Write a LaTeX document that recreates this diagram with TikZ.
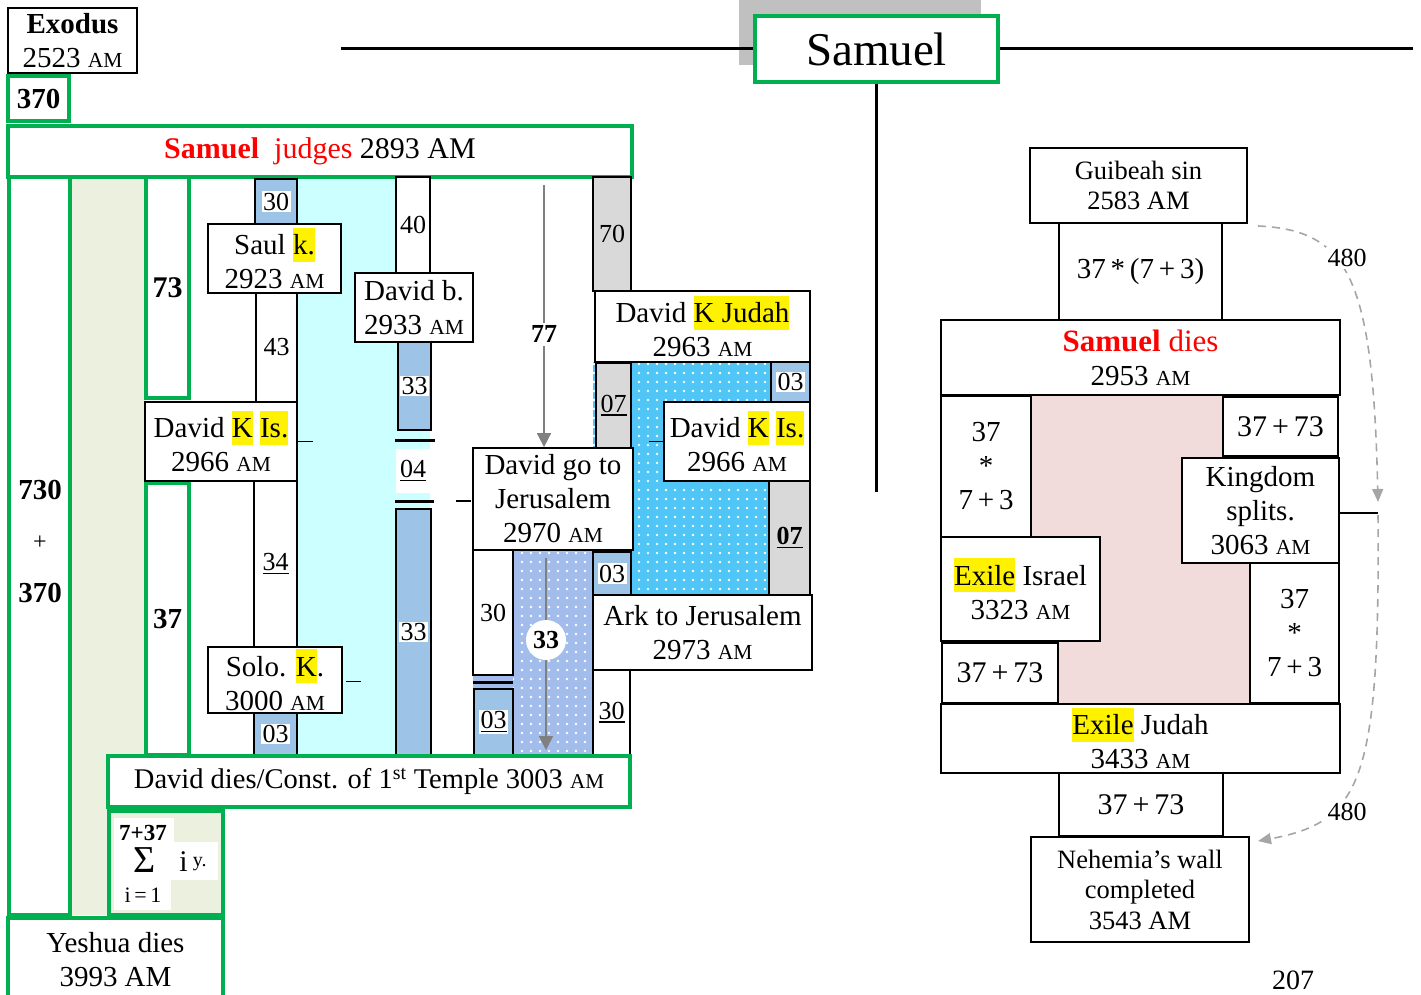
\documentclass[tikz,border=0pt]{standalone}
\usepackage{fontspec}
\setmainfont{Liberation Serif}
\usetikzlibrary{arrows.meta,patterns.meta}
\definecolor{grn}{HTML}{00B050}
\definecolor{lgrn}{HTML}{EBF1DE}
\definecolor{cyn}{HTML}{CCFFFF}
\definecolor{blu}{HTML}{9DC3E6}
\definecolor{gry}{HTML}{D9D9D9}
\definecolor{pnk}{HTML}{F2DCDB}
\definecolor{topgray}{HTML}{C0C0C0}
\definecolor{dotblue}{HTML}{A2BCEB}
\definecolor{dotcyan}{HTML}{4FC6F5}
\definecolor{arrg}{HTML}{808080}
\definecolor{darrg}{HTML}{A6A6A6}
\newcommand\fz[2]{\fontsize{#1}{#2}\selectfont}
\newcommand\am{\scalebox{0.74}{AM}}
\newcommand\hl[1]{{\setlength{\fboxsep}{0pt}\colorbox{yellow}{\rule[-0.24em]{0pt}{1.17em}#1}}}
\newcommand\wb[1]{{\setlength{\fboxsep}{1.5pt}\colorbox{white}{#1}}}
\newcommand\ul[1]{\setbox0\hbox{#1}\leavevmode\rlap{\rule[-3.5pt]{\wd0}{1.8pt}}\box0}
\newcommand\bx[7]{\node[#1, minimum width=#5pt-#3pt, minimum height=#6pt-#4pt] (#2) at ({(#3+#5)/2},{(#4+#6)/2}) {#7};}
\tikzset{
 boxbase/.style={inner sep=0pt, align=center},
 wbox/.style={boxbase, draw=black, line width=1.8pt, fill=white},
 gbox/.style={boxbase, draw=grn, line width=3.2pt, fill=white},
 gboxl/.style={boxbase, draw=grn, line width=3.2pt, fill=lgrn},
 bcol/.style={boxbase, draw=black, line width=1.8pt, fill=blu, font=\fz{26}{30}},
 gycol/.style={boxbase, draw=black, line width=1.8pt, fill=gry, font=\fz{26}{30}},
 wcol/.style={wbox, font=\fz{26}{30}},
 thk/.style={line width=3pt, black},
 tick/.style={line width=1.8pt, black},
 garrow/.style={draw=arrg, line width=1.8pt, -{Triangle[length=14pt,width=14pt]}},
 darrow/.style={draw=darrg, line width=1.6pt, dash pattern=on 8pt off 6pt, -{Triangle[length=13pt,width=11pt]}},
 lbl/.style={fill=white, inner sep=2pt, font=\fz{26}{28}},
}
\begin{document}
\begin{tikzpicture}[x=1pt,y=-1pt, every node/.style={font=\fz{29}{34}}]
\useasboundingbox (0,0) rectangle (1421,994);

% ---------- background fills ----------
\fill[lgrn] (70,177) rectangle (146,915);
\fill[cyn] (297,177) rectangle (430,755);
\fill[dotcyan] (593,362) rectangle (770,595);
\fill[pattern={Dots[distance=9pt,radius=1.3pt]}, pattern color=white] (593,362) rectangle (770,595);
\fill[dotblue] (513,550) rectangle (593,755);
\fill[dotblue] (473,675) rectangle (513,689);
\fill[pattern={Dots[distance=9pt,radius=1.3pt]}, pattern color=white] (513,550) rectangle (593,755);
\fill[pnk] (1031,395) rectangle (1250,703);
\fill[topgray] (739,0) rectangle (981,65);

% ---------- top title ----------
\bx{gbox, font=\fz{47}{50}}{samT}{755}{16}{998}{82}{Samuel}
\coordinate (hlL) at (341,48);
\coordinate (hlR) at (1413,48);
\coordinate (vlB) at (877,492);
\draw[line width=3pt] (hlL) -- (hlL -| samT.west);
\draw[line width=3pt] (samT.east |- hlR) -- (hlR);
\draw[line width=3pt] (samT.south) -- (samT.south |- vlB);

% ---------- top left ----------
\bx{wbox}{exodus}{8}{8}{137}{73}{\textbf{Exodus}\\2523 \am}
\bx{gbox}{n370}{8}{76}{69}{121}{\textbf{370}}
\bx{gbox, font=\fz{30}{34}}{judges}{8}{126}{632}{177}{{\color{red}\textbf{Samuel}\hspace{0.5em}judges} 2893 AM}

% ---------- long green columns ----------
\bx{gbox}{c730}{9}{177}{70}{915}{}
\node[font=\bfseries\fz{29}{30}] (t730) at (40,490) {730};
\node[font=\fz{24}{26}] (tplus) at (40,543) {+};
\node[font=\bfseries\fz{29}{30}] (t370) at (40,593) {370};
\bx{gbox, font=\bfseries\fz{30}{32}}{c73}{146}{177}{189}{398}{73}
\bx{gbox, font=\bfseries\fz{29}{32}}{c37}{146}{483}{189}{755}{37}

% ---------- Saul / David column ----------
\bx{bcol}{b30a}{255}{179}{297}{224}{\wb{30}}
\bx{wbox}{saul}{208}{224}{341}{293}{Saul \hl{k.}\\2923 \am}
\bx{wcol}{c43}{256}{293}{297}{402}{43}
\bx{wbox}{dkisL}{145}{402}{297}{481}{David \hl{K} \hl{Is.}\\2966 \am}
\bx{wcol}{c34}{254}{481}{297}{647}{\ul{34}}
\bx{wbox}{solo}{208}{647}{342}{713}{Solo. \hl{K}.\\3000 \am}
\bx{bcol}{b03a}{254}{713}{297}{755}{\wb{03}}
\draw[tick] (dkisL.east) -- ++(15,0);
\draw[tick] ([xshift=3pt,yshift=-1.5pt]solo.east) -- ++(15,0);

% ---------- David born column ----------
\bx{wcol}{c40}{396}{177}{430}{273}{40}
\bx{wbox}{davb}{355}{273}{473}{342}{David b.\\2933 \am}
\bx{bcol}{b33a}{398}{342}{431}{430}{\wb{33}}
\draw[thk] (395,440) -- (435,440);
\draw[thk] (395,501) -- (434,501);
\node[fill=white, minimum width=34pt, minimum height=44pt, inner sep=0pt, font=\fz{26}{30}] (l04) at (413,471) {\ul{04}};
\bx{bcol}{b33b}{396}{509}{431}{755}{\wb{33}}

% ---------- Judah / Jerusalem block ----------
\bx{gycol}{c70}{593}{177}{631}{291}{70}
\bx{wbox}{djud}{595}{291}{810}{362}{David \hl{K Judah}\\2963 \am}
\bx{gycol}{c07a}{596}{363}{631}{448}{\ul{07}}
\bx{bcol}{b03b}{771}{362}{810}{402}{\wb{03}}
\bx{wbox}{dkisR}{664}{402}{810}{481}{David \hl{K} \hl{Is.}\\2966 \am}
\bx{gycol, font=\bfseries\fz{26}{30}}{c07b}{769}{481}{810}{595}{\ul{07}}
\draw[tick] (dkisR.west) -- ++(-14,0);

\bx{wbox}{gojer}{473}{448}{633}{550}{David go to\\Jerusalem\\2970 \am}
\coordinate (a77s) at (544,185);
\draw[garrow] (a77s) -- (a77s |- gojer.north) node[pos=0.57, fill=white, inner sep=3pt, font=\bfseries\fz{26}{28}] (t77) {77};
\draw[tick] ([xshift=-1pt,yshift=-2pt]gojer.west) -- ++(-15,0);
\bx{wcol}{c30a}{473}{550}{513}{675}{30}
\draw[thk] (473,682) -- (513,682);
\bx{bcol}{b03c}{474}{689}{513}{755}{\wb{\ul{03}}}
\bx{bcol}{b03d}{593}{552}{631}{595}{\wb{03}}
\bx{wbox}{ark}{593}{595}{812}{670}{Ark to Jerusalem\\2973 \am}
\bx{wcol}{c30b}{593}{670}{630}{755}{\ul{30}}
\coordinate (a33s) at (546,558);
\coordinate (a33e) at (546,750);
\draw[garrow] (a33s) -- (a33e);
\node[circle, fill=white, minimum size=40pt, inner sep=0pt, font=\bfseries\fz{26}{28}] (t33) at (546,640) {33};

% ---------- bottom left ----------
\bx{gbox, font=\fz{28.5}{32}}{ddies}{108}{756}{630}{807}{David dies/Const. of 1\textsuperscript{st} Temple 3003 \am}
\bx{gboxl}{sum}{109}{811}{223}{915}{}
\fill[white] (114,818) rectangle (174,847);
\fill[white] (114,842) rectangle (218,880);
\fill[white] (114,880) rectangle (171,910);
\node[font=\bfseries\fz{23}{25}] (s737) at (143,833) {7+37};
\node[font=\fz{38}{40}] (ssig) at (145,860) {Σ};
\node[font=\fz{22}{24}] (si1) at (143,895) {i\,=\,1};
\node[font=\fz{30}{32}] (siy) at (193,862) {i\,\raisebox{5pt}{\fz{20}{22}y.}};
\bx{gbox}{yesh}{8}{918}{223}{1002}{Yeshua dies\\3993 AM}

% ---------- right side ----------
\bx{wbox, font=\fz{26.5}{30}}{guib}{1030}{148}{1247}{223}{Guibeah sin\\2583 AM}
\bx{wbox}{r37a}{1059}{223}{1222}{320}{37\,*\,(7\,+\,3)}
\bx{wbox}{sdies}{941}{320}{1340}{395}{{\fz{31}{35}\color{red}\textbf{Samuel} dies}\\2953 \am}
\bx{wbox}{r37b}{941}{396}{1031}{537}{37\\{}*\\7\,+\,3}
\bx{wbox, font=\fz{30}{34}}{r3773a}{1223}{397}{1338}{456}{37\,+\,73}
\bx{wbox}{king}{1182}{458}{1339}{563}{Kingdom\\splits.\\3063 \am}
\bx{wbox}{exisr}{941}{537}{1100}{641}{\hl{Exile} Israel\\3323 \am}
\bx{wbox, font=\fz{30}{34}}{r3773b}{942}{643}{1058}{703}{37\,+\,73}
\bx{wbox}{r37c}{1250}{563}{1339}{703}{37\\{}*\\7\,+\,3}
\bx{wbox}{exjud}{941}{704}{1340}{773}{\hl{Exile} Judah\\3433 \am}
\bx{wbox, font=\fz{30}{34}}{r3773c}{1059}{773}{1223}{836}{37\,+\,73}
\bx{wbox, font=\fz{26.5}{30.5}}{nehem}{1031}{837}{1249}{942}{Nehemia’s wall\\completed\\3543 AM}

\coordinate (d1s) at (1258,226);
\coordinate (d1e) at (1378,502);
\draw[darrow] (d1s) .. controls (1350,230) and (1373,280) .. (d1e);
\node[lbl] (n480a) at (1347,258) {480};
\coordinate (d2s) at (1378,515);
\coordinate (d2e) at (1258,841);
\draw[darrow] (d2s) .. controls (1380,780) and (1362,822) .. (d2e);
\node[lbl] (n480b) at (1347,812) {480};
\draw[tick] ([yshift=-2.5pt]king.east) -- ([yshift=-2.5pt]king.east -| d1e);

\node[font=\fz{28}{30}] (p207) at (1293,980) {207};
\end{tikzpicture}
\end{document}
